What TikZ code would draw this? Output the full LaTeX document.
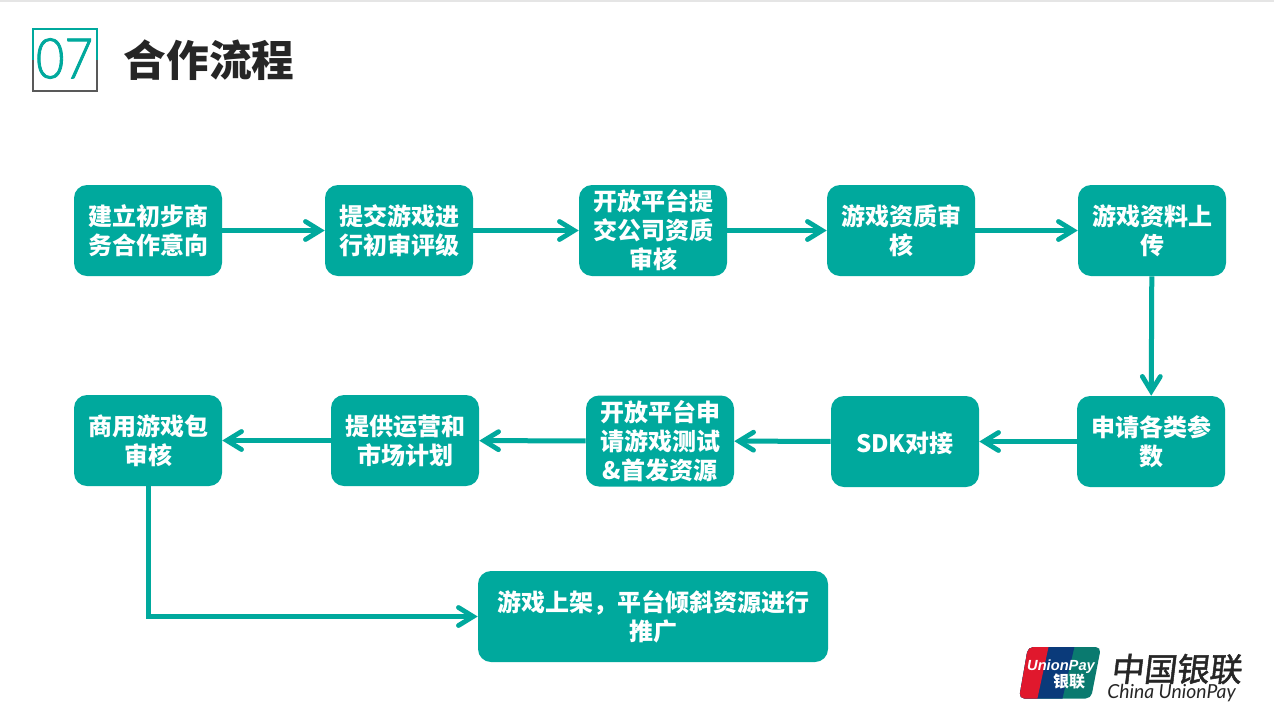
\documentclass[tikz,border=0pt]{standalone}
\usepackage{fontspec}
\setmainfont{Liberation Sans}
\newfontfamily\cjk{Noto Sans CJK SC}
\newfontfamily\cjklogo[FakeBold=1.5]{Noto Sans CJK SC}
\newfontfamily\thin[FakeBold=1.5,FakeStretch=0.88]{Lato Light}
\newfontfamily\logolat{Liberation Sans}
\newfontfamily\logoen{Lato}
\usetikzlibrary{arrows.meta}
\definecolor{teal1}{HTML}{00A99D}
\definecolor{dark1}{HTML}{262626}
\definecolor{frameg}{HTML}{595959}
\definecolor{upred}{HTML}{E0182D}
\definecolor{upblue}{HTML}{0A3A7A}
\definecolor{upteal}{HTML}{0A7A6F}
\tikzset{
  stepbox/.style={fill=teal1,rounded corners=13*0.75pt,minimum width=148*0.75pt,minimum height=91*0.75pt,
    inner sep=0pt,text=white,align=center,font=\cjk\bfseries\fontsize{18}{21.75}\selectfont,
    execute at begin node={\rule{0pt}{18pt}}},
  flow/.style={draw=teal1,line width=3.75pt,-{Straight Barb[length=11pt,width=13.5pt,line cap=round,line width=3.6pt]}},
}
\begin{document}
\begin{tikzpicture}[x=0.75pt,y=-0.75pt]
\useasboundingbox (0,0) rectangle (1274,722);
\fill[white] (0,0) rectangle (1274,722);
\fill[black!10] (0,0) rectangle (1274,2);
% title mark
\draw[frameg,line width=1.5pt] (32.5,60) -- (32.5,90.5) -- (97,90.5) -- (97,60);
\draw[teal1,line width=1.5pt] (32.5,60) -- (32.5,28.5) -- (97,28.5) -- (97,60);
\node[text=teal1,font=\thin\fontsize{42}{42}\selectfont,inner sep=0pt] (num) at (64.5,58.5) {07};
\node[text=dark1,font=\cjk\bfseries\fontsize{32}{36}\selectfont,inner sep=0pt] (title) at (209,60) {合作流程};
% row 1
\node[stepbox] (a1) at (148,230.5) {建立初步商\\务合作意向};
\node[stepbox] (a2) at (399,230.5) {提交游戏进\\行初审评级};
\node[stepbox] (a3) at (653,230.5) {开放平台提\\交公司资质\\审核};
\node[stepbox] (a4) at (901,230.5) {游戏资质审\\核};
\node[stepbox] (a5) at (1152,230.5) {游戏资料上\\传};
% row 2
\node[stepbox] (b5) at (1151,441.5) {申请各类参\\数};
\node[stepbox] (b4) at (905,441.5) {SDK对接};
\node[stepbox] (b3) at (660,441) {开放平台申\\请游戏测试\\\&首发资源};
\node[stepbox] (b2) at (405,440.5) {提供运营和\\市场计划};
\node[stepbox] (b1) at (148,440.5) {商用游戏包\\审核};
% final
\node[stepbox,minimum width=350*0.75pt] (c) at (653,616.5) {游戏上架，平台倾斜资源进行\\推广};
% connectors
\draw[flow] (a1) -- (a2);
\draw[flow] (a2) -- (a3);
\draw[flow] (a3) -- (a4);
\draw[flow] (a4) -- (a5);
\draw[flow] (a5) -- (b5);
\draw[flow] (b5) -- (b4);
\draw[flow] (b4) -- (b3);
\draw[flow] (b3) -- (b2);
\draw[flow] (b2) -- (b1);
\draw[flow] (b1.south) |- (c.west);
% logo
\begin{scope}
\clip[rounded corners=4pt] (1028,647) -- (1101,647) -- (1091,698.5) -- (1019,698.5) -- cycle;
\fill[upteal] (1015,640) rectangle (1105,705);
\fill[upblue] (1015,640) -- (1076,640) -- (1061,705) -- (1015,705) -- cycle;
\fill[upred] (1015,640) -- (1050,640) -- (1036,705) -- (1015,705) -- cycle;
\end{scope}
\node[text=white,inner sep=0pt,font=\logolat\bfseries\itshape\fontsize{11}{11}\selectfont] (up) at (1061,667) {UnionPay};
\node[text=white,inner sep=0pt,font=\cjk\bfseries\fontsize{12}{12}\selectfont] (upcn) at (1069,682) {银联};
\node[text=dark1,inner sep=0pt,xslant=0.12,font=\cjklogo\fontsize{24.5}{25}\selectfont] (cn) at (1177.5,669) {中国银联};
\node[text=dark1,inner sep=0pt,font=\logoen\itshape\fontsize{14.5}{15}\selectfont] (en) at (1171.5,693) {China UnionPay};
\end{tikzpicture}
\end{document}
